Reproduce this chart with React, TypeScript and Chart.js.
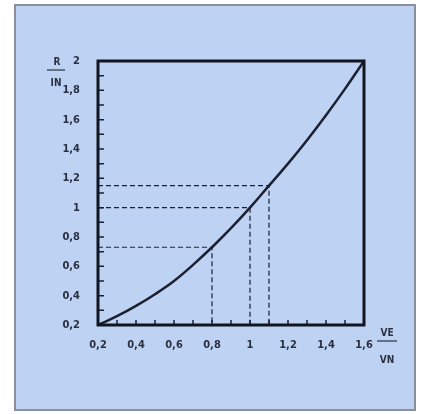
import React, { useEffect, useRef } from "react";
import { Chart, registerables } from "chart.js";

Chart.register(...registerables);

// Curve R/IN as a function of VE/VN
const curveX = [0.2, 0.3, 0.4, 0.5, 0.6, 0.7, 0.8, 0.9, 1.0, 1.1, 1.2, 1.3, 1.4, 1.5, 1.6];
const curveY = [0.2, 0.26, 0.33, 0.41, 0.5, 0.61, 0.73, 0.86, 1.0, 1.15, 1.3, 1.46, 1.63, 1.81, 2.0];

// Dashed reference points
const refX = [0.8, 1.0, 1.1];
const refY = [0.73, 1.0, 1.15];

const xTickValues = [0.2, 0.4, 0.6, 0.8, 1.0, 1.2, 1.4, 1.6];
const xTickLabels = ["0,2", "0,4", "0,6", "0,8", "1", "1,2", "1,4", "1,6"];
const yTickValues = [0.2, 0.4, 0.6, 0.8, 1.0, 1.2, 1.4, 1.6, 1.8, 2.0];
const yTickLabels = ["0,2", "0,4", "0,6", "0,8", "1", "1,2", "1,4", "1,6", "1,8", "2"];
const minorStep = 0.1;

const xTitleTop = "VE";
const xTitleBottom = "VN";
const yTitleTop = "R";
const yTitleBottom = "IN";

const INK = "#1c2030";
const TEXT = "#2b3040";
const FONT = "'Liberation Sans Narrow', 'DejaVu Sans Condensed', 'Liberation Sans', sans-serif";

const framePlugin = {
  id: "framePlugin",
  afterDatasetsDraw(chart: any) {
    const { ctx, chartArea } = chart;
    const xs = chart.scales.x;
    const ys = chart.scales.y;
    ctx.save();
    // minor ticks inside the plot
    ctx.strokeStyle = INK;
    ctx.lineWidth = 1.5;
    ctx.beginPath();
    const nx = Math.round((xs.max - xs.min) / minorStep);
    for (let i = 1; i < nx; i++) {
      const px = xs.getPixelForValue(xs.min + i * minorStep);
      ctx.moveTo(px, chartArea.bottom);
      ctx.lineTo(px, chartArea.bottom - 5);
    }
    const ny = Math.round((ys.max - ys.min) / minorStep);
    for (let i = 1; i < ny; i++) {
      const py = ys.getPixelForValue(ys.min + i * minorStep);
      ctx.moveTo(chartArea.left, py);
      ctx.lineTo(chartArea.left + 6, py);
    }
    ctx.stroke();
    // frame
    ctx.lineWidth = 3;
    ctx.strokeStyle = "#111520";
    ctx.strokeRect(chartArea.left, chartArea.top, chartArea.right - chartArea.left, chartArea.bottom - chartArea.top);

    // axis titles as fractions
    ctx.fillStyle = TEXT;
    ctx.font = `bold 10px ${FONT}`;
    ctx.textAlign = "center";
    ctx.textBaseline = "middle";
    const yx = chartArea.left - 42;
    ctx.fillText(yTitleTop, yx + 1, chartArea.top + 1);
    ctx.fillText(yTitleBottom, yx, chartArea.top + 22);
    ctx.lineWidth = 1.2;
    ctx.strokeStyle = TEXT;
    ctx.beginPath();
    ctx.moveTo(yx - 9, chartArea.top + 9);
    ctx.lineTo(yx + 9, chartArea.top + 9);
    ctx.stroke();

    const xx = chartArea.right + 23;
    ctx.fillText(xTitleTop, xx, chartArea.bottom + 8);
    ctx.fillText(xTitleBottom, xx, chartArea.bottom + 35);
    ctx.beginPath();
    ctx.moveTo(xx - 10, chartArea.bottom + 16);
    ctx.lineTo(xx + 10, chartArea.bottom + 16);
    ctx.stroke();
    ctx.restore();
  },
};

export default function App() {
  const ref = useRef<HTMLCanvasElement>(null);
  useEffect(() => {
    if (!ref.current) return;
    const curve = curveX.map((x, i) => ({ x, y: curveY[i] }));
    const guides = refX.map((x, i) => ({
      type: "line" as const,
      data: [
        { x: 0.2, y: refY[i] },
        { x, y: refY[i] },
        { x, y: 0.2 },
      ],
      borderColor: INK,
      borderWidth: 1.2,
      borderDash: [5, 3],
      pointRadius: 0,
      tension: 0,
      fill: false,
    }));
    const chart = new Chart(ref.current, {
      type: "line",
      data: {
        datasets: [
          ...guides,
          {
            data: curve,
            borderColor: INK,
            borderWidth: 2.5,
            pointRadius: 0,
            tension: 0.4,
            fill: false,
          } as any,
        ],
      },
      options: {
        animation: false,
        responsive: true,
        maintainAspectRatio: false,
        layout: { padding: { left: 0, right: 64, top: 61, bottom: 0 } },
        plugins: { legend: { display: false }, tooltip: { enabled: false } },
        scales: {
          x: {
            type: "linear",
            min: 0.2,
            max: 1.6,
            grid: { display: false },
            border: { display: false },
            afterBuildTicks: (s: any) => {
              s.ticks = xTickValues.map((v) => ({ value: v }));
            },
            afterFit: (s: any) => {
              s.height = 89;
            },
            ticks: {
              padding: 6,
              color: TEXT,
              font: { family: FONT, size: 11, weight: "bold" },
              maxRotation: 0,
              callback: (v: any) => {
                const i = xTickValues.findIndex((t) => Math.abs(t - Number(v)) < 1e-6);
                return i >= 0 ? xTickLabels[i] : "";
              },
            },
          },
          y: {
            type: "linear",
            min: 0.2,
            max: 2,
            grid: { display: false },
            border: { display: false },
            afterBuildTicks: (s: any) => {
              s.ticks = yTickValues.map((v) => ({ value: v }));
            },
            afterFit: (s: any) => {
              s.width = 98;
            },
            ticks: {
              padding: 10,
              color: TEXT,
              font: { family: FONT, size: 11, weight: "bold" },
              callback: (v: any) => {
                const i = yTickValues.findIndex((t) => Math.abs(t - Number(v)) < 1e-6);
                return i >= 0 ? yTickLabels[i] : "";
              },
            },
          },
        },
      },
      plugins: [framePlugin],
    });
    return () => chart.destroy();
  }, []);

  return (
    <div style={{ position: "absolute", left: 0, top: 0, width: 428, height: 414, background: "#ffffff" }}>
      <div
        style={{
          position: "absolute",
          left: 14,
          top: 4,
          width: 398,
          height: 403,
          background: "#bed2f3",
          border: "2px solid #8c8f99",
        }}
      />
      <div style={{ position: "absolute", left: 0, top: 0, width: 428, height: 414 }}>
        <canvas ref={ref} />
      </div>
    </div>
  );
}
